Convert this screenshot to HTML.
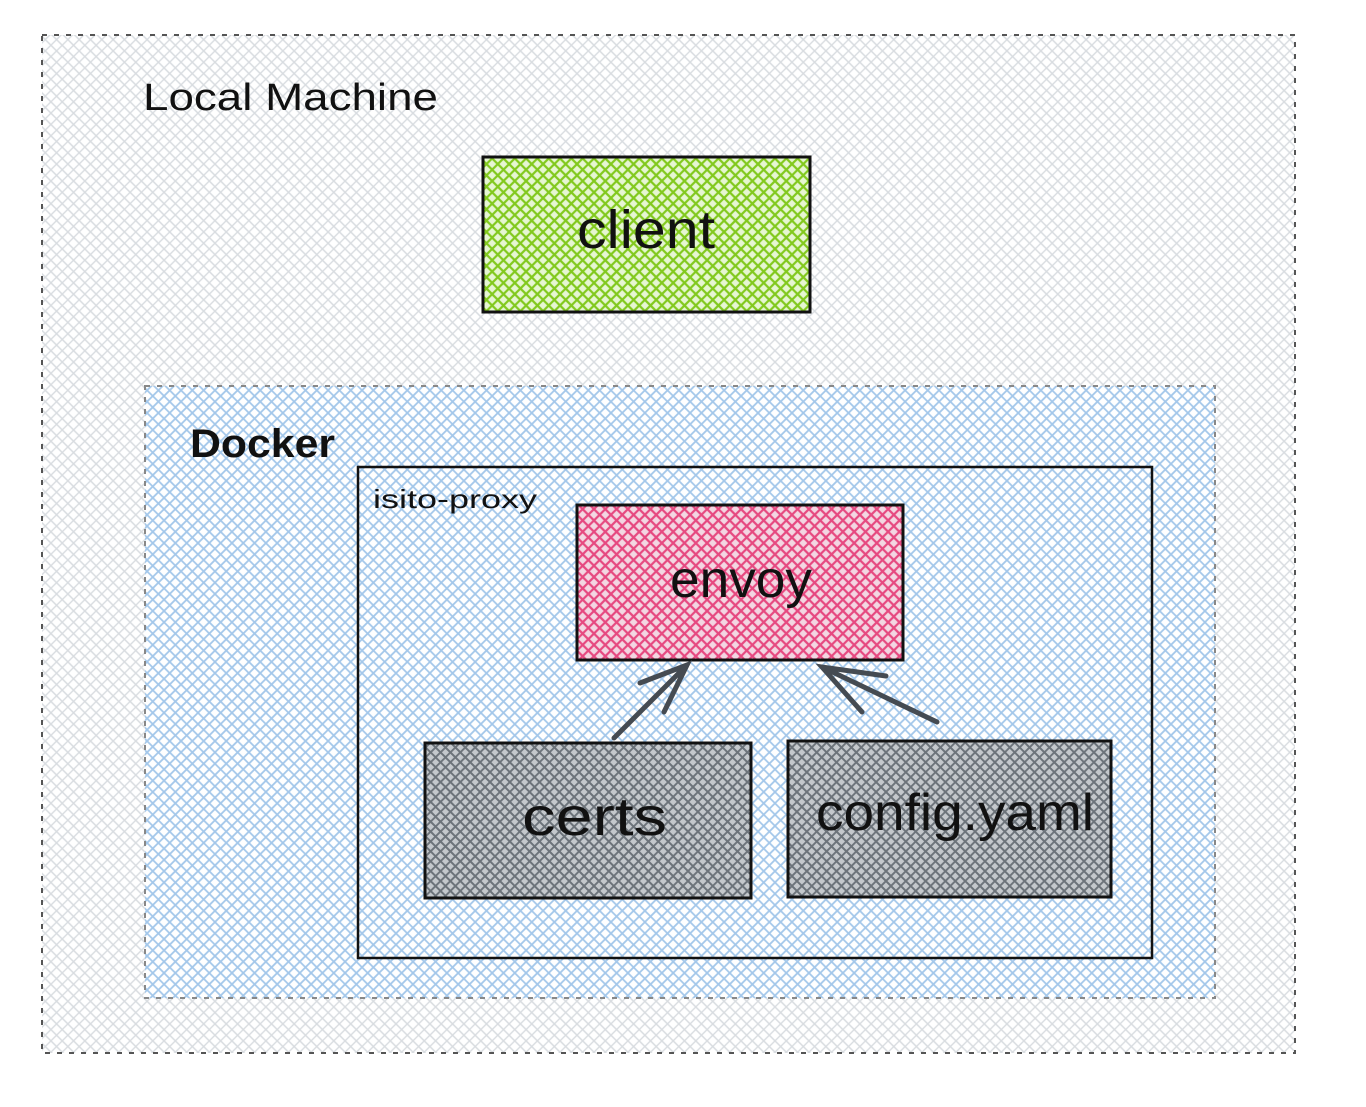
<!DOCTYPE html>
<html><head><meta charset="utf-8"><style>
html,body{margin:0;padding:0;background:#fff;width:1366px;height:1107px;overflow:hidden}
text{font-family:"Liberation Sans",sans-serif;fill:#111}
</style></head><body>
<svg width="1366" height="1107" viewBox="0 0 1366 1107" xmlns="http://www.w3.org/2000/svg">
<defs>
<pattern id="pg" width="8" height="8" patternUnits="userSpaceOnUse" patternTransform="rotate(45)">
<path d="M0 4H8M4 0V8" stroke="#d8dce0" stroke-width="1.4"/></pattern>
<pattern id="pb" width="8" height="8" patternUnits="userSpaceOnUse" patternTransform="rotate(45)">
<rect width="8" height="8" fill="#fff"/><path d="M0 4H8M4 0V8" stroke="#a3c7ea" stroke-width="1.8"/></pattern>
<pattern id="pgr" width="8" height="8" patternUnits="userSpaceOnUse" patternTransform="rotate(45)">
<rect width="8" height="8" fill="#e6f6d2"/><path d="M0 4H8M4 0V8" stroke="#82c91e" stroke-width="2.2"/></pattern>
<pattern id="pp" width="8" height="8" patternUnits="userSpaceOnUse" patternTransform="rotate(45)">
<rect width="8" height="8" fill="#f3d6e2"/><path d="M0 4H8M4 0V8" stroke="#e64980" stroke-width="2.2"/></pattern>
<pattern id="pd" width="7" height="7" patternUnits="userSpaceOnUse" patternTransform="rotate(45)">
<rect width="7" height="7" fill="#c4c8cc"/><path d="M0 3.5H7M3.5 0V7" stroke="#6c737a" stroke-width="1.9"/></pattern>
</defs>
<rect x="42" y="35" width="1253" height="1018" fill="url(#pg)" stroke="#555" stroke-width="2" stroke-dasharray="5 7"/>
<text x="143" y="110" font-size="38" textLength="295" lengthAdjust="spacingAndGlyphs">Local Machine</text>
<rect x="483" y="157" width="327" height="155" fill="url(#pgr)" stroke="#111" stroke-width="3"/>
<text x="577" y="248" font-size="54" textLength="138" lengthAdjust="spacingAndGlyphs">client</text>
<rect x="145" y="386" width="1070" height="612" fill="url(#pb)" stroke="#888" stroke-width="2" stroke-dasharray="5 7"/>
<text x="190" y="457" font-size="40" font-weight="bold" textLength="145" lengthAdjust="spacingAndGlyphs">Docker</text>
<rect x="358" y="467" width="794" height="491" fill="none" stroke="#111" stroke-width="2.5"/>
<text x="373" y="508" font-size="26" textLength="164" lengthAdjust="spacingAndGlyphs">isito-proxy</text>
<rect x="577" y="505" width="326" height="155" fill="url(#pp)" stroke="#111" stroke-width="3"/>
<text x="670" y="597" font-size="52" textLength="142" lengthAdjust="spacingAndGlyphs">envoy</text>
<rect x="425" y="743" width="326" height="155" fill="url(#pd)" stroke="#111" stroke-width="3"/>
<text x="522" y="835" font-size="54" textLength="145" lengthAdjust="spacingAndGlyphs">certs</text>
<rect x="788" y="741" width="323" height="156" fill="url(#pd)" stroke="#111" stroke-width="3"/>
<text x="816" y="830" font-size="52" textLength="278" lengthAdjust="spacingAndGlyphs">config.yaml</text>
<g stroke="#454b52" stroke-width="5" stroke-linecap="round" fill="none">
<path d="M614 738L687 665M640 683L687 665L664 712"/>
<path d="M937 722L822 667M886 676L822 667L862 712"/>
</g>
</svg>
</body></html>
